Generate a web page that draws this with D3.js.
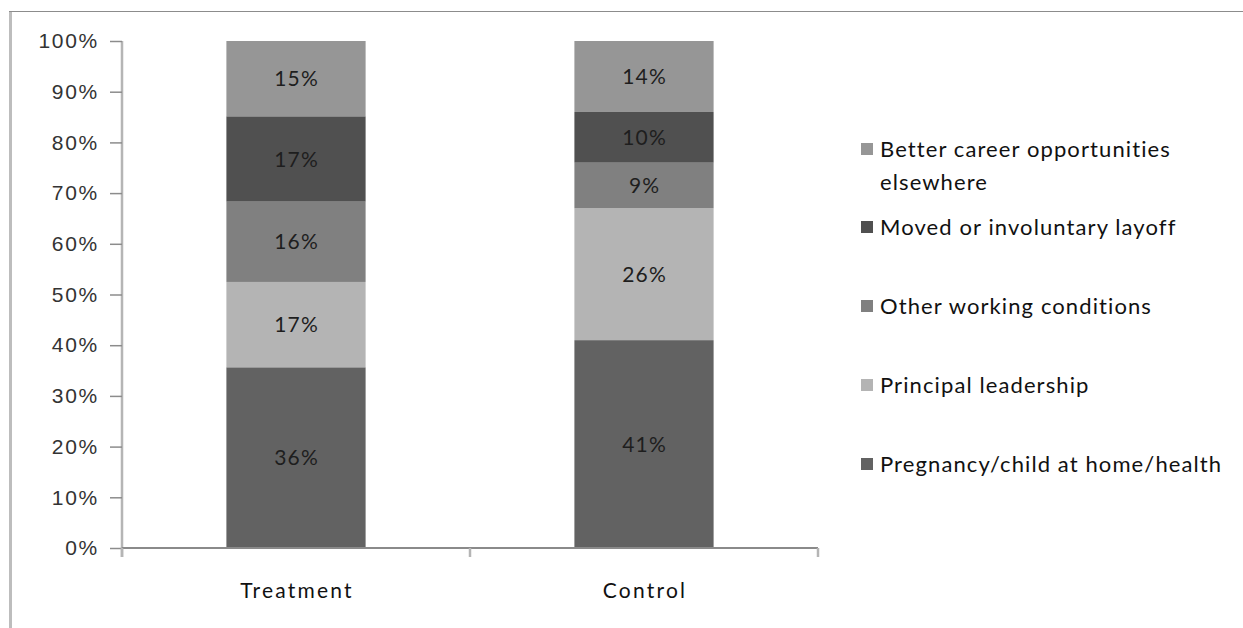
<!DOCTYPE html>
<html>
<head>
<meta charset="utf-8">
<script src="https://d3js.org/d3.v7.min.js"></script>
<style>
  html, body { margin: 0; padding: 0; background: #fff; }
  svg { display: block; font-family: Lato, "Open Sans", sans-serif; }
</style>
</head>
<body>
<svg id="chart" width="1243" height="628"></svg>
<script>
// Groups along the x axis
const groups = ["Treatment", "Control"];

// Reasons for leaving, bottom of the stack first
const reasons = [
  "Pregnancy/child at home/health",
  "Principal leadership",
  "Other working conditions",
  "Moved or involuntary layoff",
  "Better career opportunities elsewhere"
];

// Percent of leavers citing each reason, per group (same order as reasons)
const treatmentValues = [36, 17, 16, 17, 15];
const controlValues   = [41, 26, 9, 10, 14];

const yTicks = [0, 0.1, 0.2, 0.3, 0.4, 0.5, 0.6, 0.7, 0.8, 0.9, 1.0];

const colors = ["#626262", "#b4b4b4", "#808080", "#505050", "#969696"];

// Legend is listed top-down, reverse of stacking order
const legendLines = [
  ["Better career opportunities", "elsewhere"],
  ["Moved or involuntary layoff"],
  ["Other working conditions"],
  ["Principal leadership"],
  ["Pregnancy/child at home/health"]
];

const rows = groups.map((g, gi) => {
  const vals = gi === 0 ? treatmentValues : controlValues;
  const row = { group: g };
  reasons.forEach((r, i) => { row[r] = vals[i]; });
  return row;
});

const svg = d3.select("#chart");
const margin = { left: 122, top: 41 };
const plotW = 696, plotH = 507;

// Outer chart frame (left and top edges)
svg.append("line").attr("x1", 10.5).attr("x2", 10.5).attr("y1", 11).attr("y2", 628)
  .attr("stroke", "#bdbdbd").attr("stroke-width", 3);
svg.append("line").attr("x1", 9).attr("x2", 1243).attr("y1", 11.5).attr("y2", 11.5)
  .attr("stroke", "#8c8c8c").attr("stroke-width", 1);

const g = svg.append("g").attr("transform", `translate(${margin.left},${margin.top})`);

const x = d3.scaleBand().domain(groups).range([0, plotW]).padding(0);
const y = d3.scaleLinear().domain([0, 1]).range([plotH, 0]);
const color = d3.scaleOrdinal().domain(reasons).range(colors);

const stack = d3.stack().keys(reasons).offset(d3.stackOffsetExpand);
const series = stack(rows);

const barW = x.bandwidth() * 0.4;

// Stacked segments
const layer = g.selectAll(".layer").data(series).join("g")
  .attr("class", "layer")
  .attr("fill", d => color(d.key));

layer.selectAll("rect").data(d => d).join("rect")
  .attr("x", d => x(d.data.group) + (x.bandwidth() - barW) / 2)
  .attr("y", d => y(d[1]))
  .attr("width", barW)
  .attr("height", d => y(d[0]) - y(d[1]));

// Value labels centred in each segment
series.forEach(s => {
  g.selectAll(null).data(s).join("text")
    .attr("x", d => x(d.data.group) + x.bandwidth() / 2 + 0.7)
    .attr("y", d => (y(d[0]) + y(d[1])) / 2)
    .attr("dy", "0.36em")
    .attr("text-anchor", "middle")
    .attr("font-size", 21)
    .attr("letter-spacing", 1.3)
    .attr("fill", "#1e1e1e")
    .text(d => d.data[s.key] + "%");
});

// Y axis
const yAxis = g.append("g")
  .call(d3.axisLeft(y).tickValues(yTicks).tickFormat(d3.format(".0%")).tickSize(12).tickPadding(11));
yAxis.select(".domain").attr("stroke", "#b5b5b5").attr("stroke-width", 2.5)
  .attr("d", `M0,0V${plotH + 9}`);
yAxis.selectAll(".tick line").attr("stroke", "#8c8c8c").attr("stroke-width", 1.5);
yAxis.selectAll(".tick text").attr("font-size", 21).attr("letter-spacing", 1.7).attr("fill", "#333");

// X axis with boundary ticks between categories
const xAxis = g.append("g").attr("transform", `translate(0,${plotH})`);
xAxis.append("line").attr("x1", 0).attr("x2", plotW).attr("y1", 0).attr("y2", 0)
  .attr("stroke", "#8a8a8a").attr("stroke-width", 2);
const bounds = groups.map(d => x(d)).concat([plotW]);
xAxis.selectAll(".bt").data(bounds).join("line")
  .attr("x1", d => d).attr("x2", d => d).attr("y1", 0).attr("y2", 9)
  .attr("stroke", "#b5b5b5").attr("stroke-width", 2.5);
xAxis.selectAll(".cat").data(groups).join("text")
  .attr("x", d => x(d) + x.bandwidth() / 2 + 1)
  .attr("y", 42)
  .attr("dy", "0.36em")
  .attr("text-anchor", "middle")
  .attr("font-size", 21)
  .attr("letter-spacing", 2.2)
  .attr("fill", "#111")
  .text(d => d);

// Legend
const legendY = [149, 227, 306, 385, 464];
const legend = svg.append("g");
legendLines.forEach((lines, i) => {
  const ly = legendY[i];
  legend.append("rect")
    .attr("x", 861).attr("y", ly - 6).attr("width", 12).attr("height", 12)
    .attr("fill", color(reasons[reasons.length - 1 - i]));
  lines.forEach((t, j) => {
    legend.append("text")
      .attr("x", 880).attr("y", ly + j * 33)
      .attr("dy", "0.36em")
      .attr("font-size", 22)
      .attr("letter-spacing", 1.1)
      .attr("fill", "#111")
      .text(t);
  });
});
</script>
</body>
</html>
